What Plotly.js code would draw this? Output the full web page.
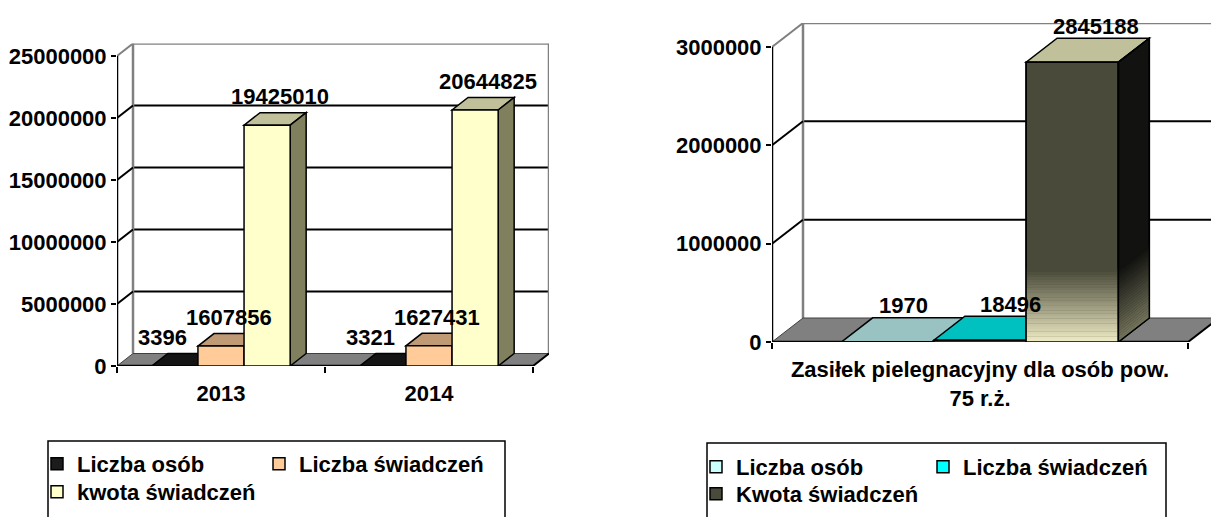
<!DOCTYPE html>
<html><head><meta charset="utf-8">
<script src="https://cdn.plot.ly/plotly-3.0.1.min.js"></script>
<style>html,body{margin:0;padding:0;background:#fff;} #chart{width:1211px;height:517px;}</style>
</head><body><div id="chart"></div>
<script>
// ---------------- data ----------------
const yearsLeft = ['2013', '2014'];
const liczbaOsobLeft = [3396, 3321];
const liczbaSwiadczenLeft = [1607856, 1627431];
const kwotaSwiadczenLeft = [19425010, 20644825];
const leftSeriesNames = ['Liczba osób', 'Liczba świadczeń', 'kwota świadczeń'];
const leftTickVals = [0, 5000000, 10000000, 15000000, 20000000, 25000000];
const leftTickText = ['0', '5000000', '10000000', '15000000', '20000000', '25000000'];

const categoryRight = ['Zasiłek pielegnacyjny dla osób pow.<br>75 r.ż.'];
const liczbaOsobRight = [1970];
const liczbaSwiadczenRight = [18496];
const kwotaSwiadczenRight = [2845188];
const rightSeriesNames = ['Liczba osób', 'Liczba świadczeń', 'Kwota świadczeń'];
const rightTickVals = [0, 1000000, 2000000, 3000000];
const rightTickText = ['0', '1000000', '2000000', '3000000'];

// ---------------- style / layout ----------------
const W = 1211, H = 517;
const FONT = 'Liberation Sans, Arial, Helvetica, sans-serif';
const FS = 22;
const GAP = 0.335;

const panels = [
  {
    xa: 'x', ya: 'y', axKey: 'xaxis', ayKey: 'yaxis',
    cats: yearsLeft, series: [liczbaOsobLeft, liczbaSwiadczenLeft, kwotaSwiadczenLeft], names: leftSeriesNames,
    tickVals: leftTickVals, tickText: leftTickText,
    front: {left: 117, right: 533, floor: 366, top: 56}, depth: {dx: 16, dy: 12.5},
    colors: [
      {front: '#1C1C1C', top: '#141414', side: '#0A0A0A'},
      {front: '#FFCC99', top: '#C09A74', side: '#9C7A5A'},
      {front: '#FFFFCC', top: '#C0C09A', side: '#80805F'}
    ],
    labelShiftX: [-20, 0, 5], labelShiftY: 16,
    legends: ['legend', 'legend2', 'legend3'],
    legendPos: [[37, 443], [259, 443], [37, 471]]
  },
  {
    xa: 'x2', ya: 'y2', axKey: 'xaxis2', ayKey: 'yaxis2',
    cats: categoryRight, series: [liczbaOsobRight, liczbaSwiadczenRight, kwotaSwiadczenRight], names: rightSeriesNames,
    tickVals: rightTickVals, tickText: rightTickText,
    front: {left: 772, right: 1188, floor: 342, top: 47}, depth: {dx: 31, dy: 24},
    colors: [
      {front: '#CCFFFF', top: '#99C2C2', side: '#7FA0A0'},
      {front: '#00FFFF', top: '#00C0C0', side: '#009A9A'},
      {front: '#4A4A3A', top: '#C0C09A', side: '#121210',
       gradient: {frac: 0.26, steps: 28, bottom: '#ECE9C2', top: '#4A4A3A', sideBottom: '#74745C', sideTop: '#121210'}}
    ],
    labelShiftX: [0, 15, 8], labelShiftY: 12,
    legends: ['legend4', 'legend5', 'legend6'],
    legendPos: [[696, 446], [923, 446], [696, 473]]
  }
];

function hexToRgb(h) { h = h.replace('#', ''); return [0, 2, 4].map(i => parseInt(h.substr(i, 2), 16)); }
function mix(a, b, t) {
  const A = hexToRgb(a), B = hexToRgb(b);
  return 'rgb(' + A.map((v, i) => Math.round(v + (B[i] - v) * t)).join(',') + ')';
}

function geom(p) {
  const n = p.cats.length;
  const catPx = (p.front.right - p.front.left) / n;
  const rightPx = Math.min(W, p.front.right + p.depth.dx);
  const maxTick = p.tickVals[p.tickVals.length - 1];
  const unitPx = (p.front.floor - p.front.top) / maxTick;
  const topPx = p.front.top - p.depth.dy;
  return {
    n, catPx, maxTick,
    xDomain: [p.front.left / W, rightPx / W],
    xRange: [-0.5, -0.5 + (rightPx - p.front.left) / catPx],
    yDomain: [(H - p.front.floor) / H, (H - topPx) / H],
    yRange: [0, (p.front.floor - topPx) / unitPx],
    dxU: p.depth.dx / catPx, dyU: p.depth.dy / unitPx,
    backRight: n - 0.5 + p.depth.dx / catPx
  };
}

const traces = [], shapes = [], annotations = [];
const layout = {
  width: W, height: H, margin: {l: 0, r: 0, t: 0, b: 0},
  paper_bgcolor: '#fff', plot_bgcolor: 'rgba(0,0,0,0)',
  barmode: 'group', bargap: GAP, bargroupgap: 0,
  font: {family: FONT, size: FS, color: '#000', weight: 'bold'},
  hovermode: false, showlegend: true
};

function line(p, x0, y0, x1, y1, color, width, layer) {
  shapes.push({type: 'line', xref: p.xa, yref: p.ya, x0, y0, x1, y1, line: {color, width}, layer: layer || 'below'});
}
function poly(p, pts, fill, lineColor, lw, layer) {
  const path = 'M' + pts.map(q => q[0] + ',' + q[1]).join('L') + 'Z';
  shapes.push({type: 'path', xref: p.xa, yref: p.ya, path, fillcolor: fill,
    line: {color: lineColor || 'rgba(0,0,0,0)', width: lw || 0}, layer: layer || 'below'});
}
function legendDef(xPx, yPx) {
  return {
    x: xPx / W, xanchor: 'left', y: 1 - yPx / H, yanchor: 'top', orientation: 'h',
    font: {family: FONT, size: FS, color: '#000', weight: 'bold'},
    bgcolor: 'rgba(0,0,0,0)', borderwidth: 0,
    itemclick: false, itemdoubleclick: false
  };
}

panels.forEach(p => {
  const g = geom(p);
  const bx = -0.5 + g.dxU;
  // back wall gridlines
  p.tickVals.forEach(v => {
    if (v > 0 && v < g.maxTick) line(p, bx, v + g.dyU, g.backRight, v + g.dyU, '#000', 2);
  });
  // wall edges
  line(p, bx, g.dyU, bx, g.maxTick + g.dyU, '#808080', 2.5);
  line(p, bx, g.maxTick + g.dyU, g.backRight, g.maxTick + g.dyU, '#808080', 2.5);
  line(p, g.backRight, g.dyU, g.backRight, g.maxTick + g.dyU, '#808080', 2.5);
  // diagonals from front axis to wall
  p.tickVals.forEach(v => {
    if (v > 0) line(p, -0.5, v, bx, v + g.dyU, v < g.maxTick ? '#000' : '#808080', 2);
  });
  // floor
  poly(p, [[-0.5, 0], [g.n - 0.5, 0], [g.backRight, g.dyU], [bx, g.dyU]], '#808080', '#404040', 1);
  // front axis lines
  line(p, -0.5, 0, -0.5, g.maxTick, '#000', 2.5);
  line(p, -0.5, 0, g.n - 0.5, 0, '#000', 2.5);
  line(p, g.n - 0.5, 0, g.backRight, g.dyU, '#000', 2);

  const w = (1 - GAP) / p.series.length;
  p.series.forEach((vals, j) => {
    const c = p.colors[j];
    traces.push({
      type: 'bar', x: p.cats, y: vals, name: p.names[j],
      xaxis: p.xa, yaxis: p.ya, legend: p.legends[j],
      marker: {color: c.front, line: {color: '#000', width: 1.5}},
      hoverinfo: 'skip'
    });
    layout[p.legends[j]] = legendDef(p.legendPos[j][0], p.legendPos[j][1]);
    vals.forEach((v, i) => {
      const x0 = i - (1 - GAP) / 2 + j * w, x1 = x0 + w;
      // top and side faces
      poly(p, [[x0, v], [x1, v], [x1 + g.dxU, v + g.dyU], [x0 + g.dxU, v + g.dyU]], c.top, '#000', 1.5);
      poly(p, [[x1, 0], [x1, v], [x1 + g.dxU, v + g.dyU], [x1 + g.dxU, g.dyU]], c.side, '#000', 1.5);
      if (c.gradient) {
        const gr = c.gradient, hTop = v * gr.frac;
        for (let k = 0; k < gr.steps; k++) {
          const t = k / (gr.steps - 1);
          const ya = hTop * k / gr.steps, yb = hTop * (k + 1) / gr.steps + hTop * 0.004;
          poly(p, [[x0, ya], [x1, ya], [x1, yb], [x0, yb]], mix(gr.bottom, gr.top, t), null, 0, 'above');
          poly(p, [[x1, ya], [x1 + g.dxU, ya + g.dyU], [x1 + g.dxU, yb + g.dyU], [x1, yb]], mix(gr.sideBottom, gr.sideTop, t), null, 0, 'above');
        }
        poly(p, [[x0, 0], [x1, 0], [x1, v], [x0, v]], 'rgba(0,0,0,0)', '#000', 1.5, 'above');
        poly(p, [[x1, 0], [x1, v], [x1 + g.dxU, v + g.dyU], [x1 + g.dxU, g.dyU]], 'rgba(0,0,0,0)', '#000', 1.5, 'above');
      }
      annotations.push({
        xref: p.xa, yref: p.ya, x: (x0 + x1) / 2 + g.dxU / 2, y: v + g.dyU,
        text: String(v), showarrow: false, xanchor: 'center', yanchor: 'middle',
        xshift: p.labelShiftX[j], yshift: p.labelShiftY,
        font: {family: FONT, size: FS, color: '#000', weight: 'bold'}
      });
    });
  });

  layout[p.axKey] = {
    type: 'category', domain: g.xDomain, range: g.xRange, anchor: p.ya,
    showline: false, showgrid: false, zeroline: false,
    ticks: 'outside', tickson: 'boundaries', ticklen: 6, tickwidth: 2, tickcolor: '#000',
    tickfont: {family: FONT, size: FS, color: '#000', weight: 'bold'},
    ticklabelstandoff: 12, fixedrange: true
  };
  layout[p.ayKey] = {
    domain: g.yDomain, range: g.yRange, anchor: p.xa,
    showline: false, showgrid: false, zeroline: false,
    ticks: 'outside', ticklen: 5, tickwidth: 2, tickcolor: '#000',
    tickvals: p.tickVals, ticktext: p.tickText,
    tickfont: {family: FONT, size: FS, color: '#000', weight: 'bold'}, fixedrange: true
  };
});

// legend boxes
shapes.push({type: 'rect', xref: 'paper', yref: 'paper', x0: 48 / W, x1: 505 / W, y0: -0.05, y1: 1 - 441 / H,
  line: {color: '#000', width: 1.5}, fillcolor: 'rgba(0,0,0,0)', layer: 'above'});
shapes.push({type: 'rect', xref: 'paper', yref: 'paper', x0: 707 / W, x1: 1166 / W, y0: -0.05, y1: 1 - 443 / H,
  line: {color: '#000', width: 1.5}, fillcolor: 'rgba(0,0,0,0)', layer: 'above'});

layout.shapes = shapes;
layout.annotations = annotations;

Plotly.newPlot('chart', traces, layout, {displayModeBar: false, staticPlot: true});
</script>
</body></html>
